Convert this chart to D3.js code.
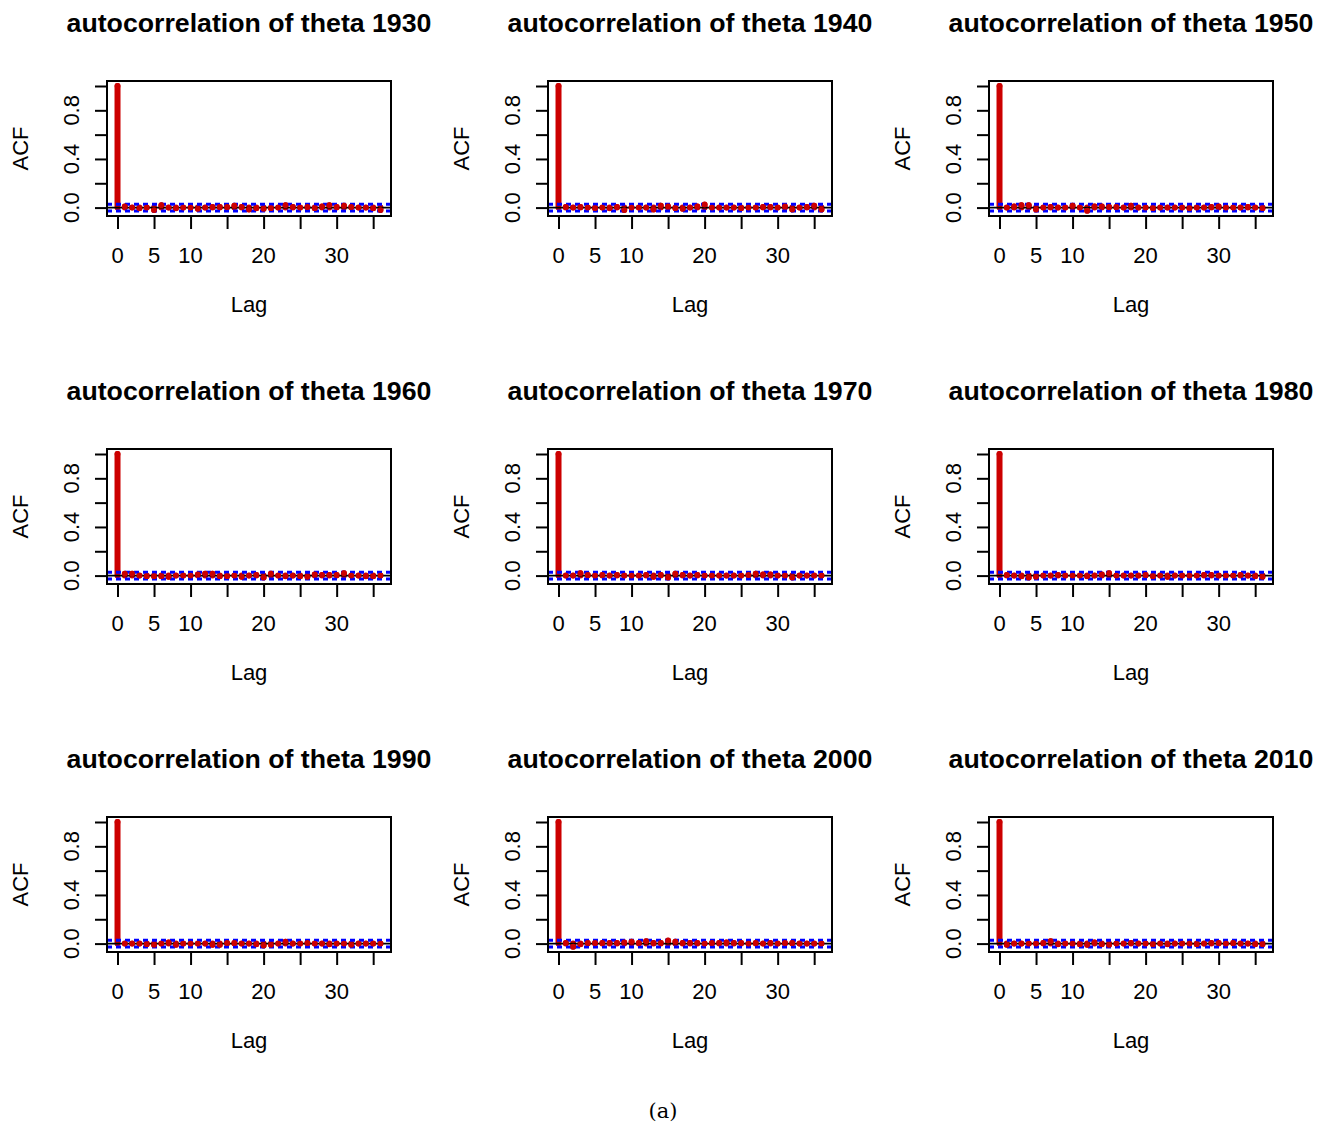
<!DOCTYPE html>
<html lang="en">
<head>
  <meta charset="UTF-8">
  <title>ACF panels</title>
  <style>
    body { margin: 0; background: #fff; }
    text { font-family: "Liberation Sans", Arial, sans-serif; fill: #000; }
  </style>
</head>
<body>

  <svg id="svg" width="1320" height="1129"></svg>

  <script src="https://cdn.jsdelivr.net/npm/d3@7"></script>
  <script>
    // acf values, lag 0..36
    const years = [1930, 1940, 1950, 1960, 1970, 1980, 1990, 2000, 2010];
    const acf1930 = [1, 0.01, 0, -0.005, 0, -0.02, 0.02, 0, -0.005, 0, 0, -0.01, 0, 0.005, 0.005, 0.005, 0.015, 0.005, -0.015, -0.005, -0.01, -0.005, 0, 0.02, 0.005, 0, 0.005, -0.005, 0.01, 0.02, 0.005, 0.015, 0.005, 0, 0, -0.005, -0.02];
    const acf1940 = [1, 0.005, 0, 0.005, 0, -0.005, 0, -0.005, 0.005, -0.02, 0, 0, 0, -0.015, 0.015, 0.01, -0.005, -0.01, 0, 0.01, 0.025, 0, 0, 0, 0, -0.005, 0, 0, 0.005, 0.005, 0, 0.01, -0.015, 0, 0.005, 0.015, -0.015];
    const acf1950 = [1, 0, 0.01, 0.02, 0.02, -0.015, 0, 0.005, 0, 0, 0.015, 0, -0.025, 0.01, 0.01, 0.005, 0.005, 0, 0.015, 0, 0, -0.005, 0, 0, 0, 0, -0.005, 0, 0, 0.005, 0.01, 0, 0, 0, 0.005, 0, -0.005];
    const acf1960 = [1, 0.015, 0.015, 0, -0.005, -0.005, -0.005, -0.01, 0, 0, 0, 0.01, 0.015, 0.015, -0.005, -0.005, 0, -0.01, 0, 0.005, -0.015, 0.015, 0, -0.005, 0, -0.005, -0.01, 0.01, 0.005, 0.005, 0.005, 0.02, 0, 0, -0.005, -0.005, 0];
    const acf1970 = [1, 0, 0, 0.02, 0.005, 0, 0.005, 0, 0.005, 0, 0, 0, 0.005, -0.01, 0.005, -0.015, 0.015, 0.005, 0, 0.005, 0, 0, 0, 0, 0, 0, 0.005, 0.015, 0.01, 0.01, 0, 0, -0.015, 0, 0, 0, 0];
    const acf1980 = [1, 0.005, 0, -0.005, -0.015, -0.01, 0, 0, 0.005, 0, 0, 0, -0.005, 0, 0.01, 0.02, 0, 0, 0, 0, 0.005, -0.005, 0, -0.01, 0, 0, 0, 0, 0.005, 0.005, 0, 0, 0, 0.005, 0, -0.005, -0.01];
    const acf1990 = [1, 0, 0, 0, -0.005, -0.01, 0, 0.01, -0.01, 0, 0, 0, 0, -0.01, -0.01, 0.005, 0.005, 0, 0, -0.005, -0.015, -0.01, 0, 0.015, 0, 0, 0.005, 0, 0, -0.005, 0, 0, -0.01, 0, 0, 0, 0];
    const acf2000 = [1, 0.005, -0.025, -0.005, 0.005, 0.005, 0.005, 0.005, 0.005, 0.01, 0.015, 0.005, 0.02, 0.005, 0.005, 0.025, 0.015, 0.005, 0.005, 0.005, 0, 0.005, 0.005, 0.01, 0.005, 0.005, 0, 0.005, 0, 0.005, 0, 0.005, 0.005, 0, 0, 0, 0];
    const acf2010 = [1, -0.01, 0, 0, 0, 0, 0.005, 0.02, -0.005, 0, 0, -0.005, -0.01, 0.01, -0.005, -0.01, 0, 0, 0.005, 0, 0, -0.005, 0, -0.005, 0, 0, 0, -0.005, 0, 0.005, 0.005, 0, 0.005, 0, 0, -0.005, -0.005];
    const acfs = [acf1930, acf1940, acf1950, acf1960, acf1970, acf1980, acf1990, acf2000, acf2010];
    const ci = 0.028;

    const xTicks = [0, 5, 10, 15, 20, 25, 30, 35];
    const xTickLabels = [0, 5, 10, 20, 30];
    const yTicks = [0, 0.2, 0.4, 0.6, 0.8, 1.0];
    const yTickLabels = [0, 0.4, 0.8];

    const svg = d3.select('#svg');
    svg.append('rect').attr('width', 1320).attr('height', 1129).attr('fill', '#fff');

    // panel box inside each cell
    const box = { left: 107, right: 391, top: 81, bottom: 216 };
    const colW = 441, rowH = 368;

    years.forEach((yr, i) => {
      const acf = acfs[i];
      const g = svg.append('g')
        .attr('transform', `translate(${(i % 3) * colW},${Math.floor(i / 3) * rowH})`);

      // R style limits: 4% padding
      const xr = [0, acf.length - 1];
      const yr0 = [Math.min(d3.min(acf), -ci), Math.max(d3.max(acf), ci)];
      const px = (xr[1] - xr[0]) * 0.04, py = (yr0[1] - yr0[0]) * 0.04;
      const x = d3.scaleLinear().domain([xr[0] - px, xr[1] + px]).range([box.left, box.right]);
      const y = d3.scaleLinear().domain([yr0[0] - py, yr0[1] + py]).range([box.bottom, box.top]);

      g.append('text')
        .attr('x', (box.left + box.right) / 2).attr('y', 31.5)
        .attr('text-anchor', 'middle')
        .style('font-size', '26.7px').style('font-weight', 'bold')
        .text(`autocorrelation of theta ${yr}`);

      // acf spikes
      g.selectAll('line.spike')
        .data(acf)
        .enter()
        .append('line')
        .attr('class', 'spike')
        .attr('x1', (d, k) => x(k)).attr('x2', (d, k) => x(k))
        .attr('y1', y(0)).attr('y2', d => y(d))
        .attr('stroke', '#cc0000').attr('stroke-width', 6)
        .attr('stroke-linecap', 'round');

      // zero line
      g.append('line')
        .attr('x1', box.left).attr('x2', box.right)
        .attr('y1', y(0)).attr('y2', y(0))
        .attr('stroke', '#000').attr('stroke-width', 1.8);

      // confidence bounds
      g.selectAll('line.ci')
        .data([ci, -ci])
        .enter()
        .append('line')
        .attr('class', 'ci')
        .attr('x1', box.left).attr('x2', box.right)
        .attr('y1', d => y(d)).attr('y2', d => y(d))
        .attr('stroke', '#0000ff').attr('stroke-width', 3)
        .attr('stroke-dasharray', '5,4');

      // end dots
      g.selectAll('circle.pt')
        .data(acf)
        .enter()
        .append('circle')
        .attr('class', 'pt')
        .attr('cx', (d, k) => x(k)).attr('cy', d => y(d))
        .attr('r', 2.9)
        .attr('fill', '#cc0000');

      // box
      g.append('rect')
        .attr('x', box.left).attr('y', box.top)
        .attr('width', box.right - box.left).attr('height', box.bottom - box.top)
        .attr('fill', 'none').attr('stroke', '#000').attr('stroke-width', 2);

      // x axis
      const xAxis = g.append('g').attr('transform', `translate(0,${box.bottom})`)
        .call(d3.axisBottom(x).tickValues(xTicks).tickSize(13).tickFormat(''));
      xAxis.select('.domain').remove();
      xAxis.selectAll('.tick line').attr('stroke-width', 2);
      g.selectAll('text.xl')
        .data(xTickLabels)
        .enter()
        .append('text')
        .attr('class', 'xl')
        .attr('x', d => x(d)).attr('y', 263)
        .attr('text-anchor', 'middle')
        .style('font-size', '22px')
        .text(d => d);

      // y axis
      const yAxis = g.append('g').attr('transform', `translate(${box.left},0)`)
        .call(d3.axisLeft(y).tickValues(yTicks).tickSize(12).tickFormat(''));
      yAxis.select('.domain').remove();
      yAxis.selectAll('.tick line').attr('stroke-width', 2);
      g.selectAll('text.yl')
        .data(yTickLabels)
        .enter()
        .append('text')
        .attr('class', 'yl')
        .attr('transform', d => `translate(79,${y(d)}) rotate(-90)`)
        .attr('text-anchor', 'middle')
        .style('font-size', '22px')
        .text(d => d3.format('.1f')(d));

      g.append('text')
        .attr('x', (box.left + box.right) / 2).attr('y', 312)
        .attr('text-anchor', 'middle')
        .style('font-size', '22px')
        .text('Lag');

      g.append('text')
        .attr('transform', `translate(27.5,${(box.top + box.bottom) / 2}) rotate(-90)`)
        .attr('text-anchor', 'middle')
        .style('font-size', '22px')
        .text('ACF');
    });

    svg.append('text')
      .attr('x', 663).attr('y', 1118)
      .attr('text-anchor', 'middle')
      .style('font-family', '"DejaVu Serif", serif')
      .style('font-size', '21px')
      .text('(a)');
  </script>
</body>
</html>
